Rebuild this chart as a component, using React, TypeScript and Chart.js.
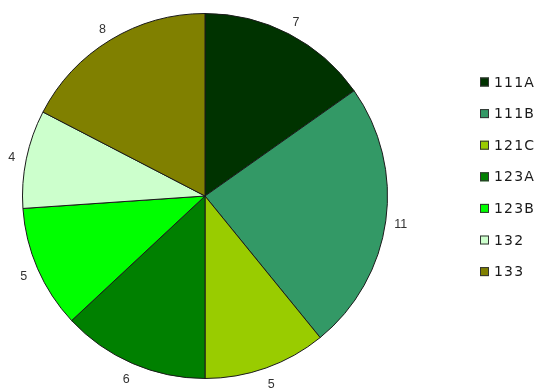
import React, { useEffect, useRef } from "react";
import { Chart, registerables } from "chart.js";

Chart.register(...registerables);

const categories = ["111A", "111B", "121C", "123A", "123B", "132", "133"];
const values = [7, 11, 5, 6, 5, 4, 8];
const colors = ["#003300", "#339966", "#99cc00", "#008000", "#00ff00", "#ccffcc", "#808000"];

const W = 539;
const H = 392;

const labelPlugin = {
  id: "outsideLabels",
  afterDatasetsDraw(chart: any) {
    const ctx = chart.ctx;
    const meta = chart.getDatasetMeta(0);
    const ds = chart.data.datasets[0];
    ctx.save();
    ctx.font = "12.5px 'Liberation Sans', Arial, sans-serif";
    ctx.fillStyle = "#333333";
    ctx.textAlign = "center";
    ctx.textBaseline = "middle";
    meta.data.forEach((arc: any, i: number) => {
      const p = arc.getProps(["x", "y", "startAngle", "endAngle", "outerRadius"], true);
      const mid = (p.startAngle + p.endAngle) / 2;
      const r = p.outerRadius + 15;
      const x = p.x + Math.cos(mid) * r;
      const y = p.y + Math.sin(mid) * r + 2;
      ctx.fillText(String(ds.data[i]), x, y);
    });
    ctx.restore();
  },
};

const legendPlugin = {
  id: "sideLegend",
  afterDraw(chart: any) {
    const ctx = chart.ctx;
    const labels = chart.data.labels as string[];
    const bg = chart.data.datasets[0].backgroundColor as string[];
    ctx.save();
    ctx.font = "14px 'DejaVu Sans', sans-serif";
    (ctx as any).letterSpacing = "1.2px";
    ctx.textBaseline = "middle";
    ctx.textAlign = "left";
    labels.forEach((lab, i) => {
      const y = 82 + i * 31.6;
      ctx.fillStyle = bg[i];
      ctx.fillRect(480, y - 4.5, 9, 9);
      ctx.strokeStyle = "#333333";
      ctx.lineWidth = 1;
      ctx.strokeRect(480.5, y - 4, 8, 8);
      ctx.fillStyle = "#1a1a1a";
      ctx.fillText(lab, 494, y + 1);
    });
    ctx.restore();
  },
};

export default function App() {
  const ref = useRef<HTMLCanvasElement | null>(null);
  useEffect(() => {
    if (!ref.current) return;
    const chart = new Chart(ref.current, {
      type: "pie",
      data: {
        labels: categories,
        datasets: [
          {
            data: values,
            backgroundColor: colors,
            borderColor: "#1a1a1a",
            borderWidth: 1,
            hoverOffset: 0,
          },
        ],
      },
      options: {
        responsive: false,
        animation: false,
        layout: { padding: { top: 13, bottom: 13, left: 20, right: 149 } },
        plugins: {
          legend: { display: false },
          tooltip: { enabled: false },
        },
      },
      plugins: [labelPlugin, legendPlugin],
    });
    return () => chart.destroy();
  }, []);
  return (
    <div style={{ position: "fixed", left: 0, top: 0, width: W, height: H, background: "#fff" }}>
      <canvas ref={ref} width={W} height={H} style={{ width: W, height: H, display: "block" }} />
    </div>
  );
}
